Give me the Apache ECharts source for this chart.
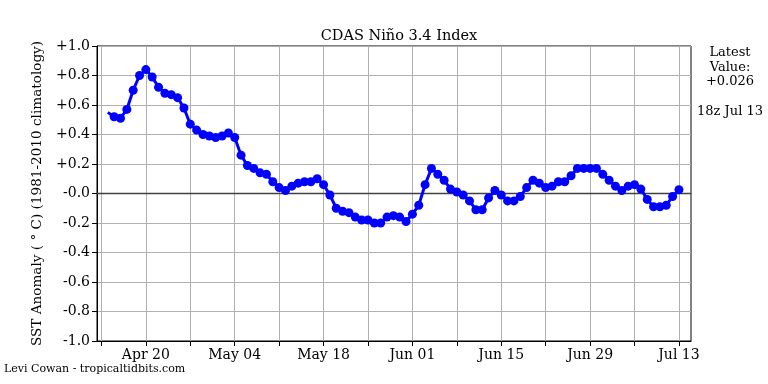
<!DOCTYPE html>
<html>
<head>
<meta charset="utf-8">
<script src="https://cdn.jsdelivr.net/npm/echarts@6/dist/echarts.min.js"></script>
<style>html,body{margin:0;padding:0;background:#fff}#c{width:768px;height:384px}</style>
</head>
<body>
<div id="c"></div>
<script>
// Daily Niño 3.4 SST anomaly, first date = Apr 14 (day -6 relative to Apr 20)
const startDay = -6;
const anomalies = [
  0.55, 0.52, 0.51, 0.57, 0.70, 0.80, 0.84, 0.79, 0.72, 0.68, 0.67, 0.65, 0.58,
  0.47, 0.43, 0.40, 0.39, 0.38, 0.39, 0.41, 0.38, 0.26, 0.19, 0.17, 0.14, 0.13,
  0.08, 0.04, 0.02, 0.05, 0.07, 0.08, 0.08, 0.10, 0.06, -0.01, -0.10, -0.12, -0.13,
  -0.16, -0.18, -0.18, -0.20, -0.20, -0.16, -0.15, -0.16, -0.19, -0.14, -0.08, 0.06,
  0.17, 0.13, 0.09, 0.03, 0.01, -0.01, -0.05, -0.11, -0.11, -0.03, 0.02, -0.01,
  -0.05, -0.05, -0.02, 0.04, 0.09, 0.07, 0.04, 0.05, 0.08, 0.08, 0.12, 0.17, 0.17,
  0.17, 0.17, 0.13, 0.09, 0.05, 0.02, 0.05, 0.06, 0.03, -0.04, -0.09, -0.09, -0.08,
  -0.02, 0.026
];
const tickDays = [-7, 0, 7, 14, 21, 28, 35, 42, 49, 56, 63, 70, 77, 84];
const labelDays = [0, 14, 28, 42, 56, 70, 84];
const tickLabels = ['Apr 20', 'May 04', 'May 18', 'Jun 01', 'Jun 15', 'Jun 29', 'Jul 13'];
const latestText = ['Latest', 'Value:', '+0.026', '', '18z Jul 13'];

const points = anomalies.map((v, i) => [startDay + i, v]);
const SERIF = '"DejaVu Serif", serif';

function fmtY(v) {
  const r = Math.round(v * 10) / 10;
  if (r > 0) return '+' + r.toFixed(1);
  if (r === 0) return '-0.0';
  return r.toFixed(1);
}

const chart = echarts.init(document.getElementById('c'));
chart.setOption({
  animation: false,
  backgroundColor: '#fff',
  title: {
    text: 'CDAS Niño 3.4 Index',
    left: 394, top: 24, textAlign: 'center',
    textStyle: {fontFamily: SERIF, fontSize: 14.5, fontWeight: 'normal', color: '#000'}
  },
  grid: {left: 97, right: 77, top: 46, bottom: 43, show: true, borderColor: '#000', borderWidth: 1},
  xAxis: {
    type: 'value', min: -7.7, max: 85.9,
    axisLine: {show: true, onZero: false, lineStyle: {color: '#000', width: 1}},
    axisTick: {show: true, length: 5, customValues: tickDays, lineStyle: {color: '#000'}},
    axisLabel: {
      customValues: labelDays, margin: 7,
      fontFamily: SERIF, fontSize: 14, color: '#000',
      formatter: v => tickLabels[labelDays.indexOf(Math.round(v))] || ''
    },
    splitLine: {show: true, lineStyle: {color: '#b0b0b0', width: 1}}
  },
  yAxis: {
    type: 'value', min: -1, max: 1, interval: 0.2,
    name: 'SST Anomaly ( ° C) (1981-2010 climatology)',
    nameLocation: 'middle', nameGap: 53, nameRotate: 90,
    nameTextStyle: {fontFamily: SERIF, fontSize: 13.6, color: '#000'},
    axisLine: {show: true, onZero: false, lineStyle: {color: '#000'}},
    axisTick: {show: true, length: 5, lineStyle: {color: '#000'}},
    axisLabel: {fontFamily: SERIF, fontSize: 14, color: '#000', margin: 7, formatter: fmtY},
    splitLine: {show: true, lineStyle: {color: '#b0b0b0', width: 1}}
  },
  series: [{
    type: 'line',
    data: points,
    symbol: 'circle',
    symbolSize: (val, p) => p.dataIndex === 0 ? 0 : 9,
    showSymbol: true,
    lineStyle: {color: '#0000ff', width: 3},
    itemStyle: {color: '#0000ff'},
    z: 5,
    markLine: {
      silent: true, symbol: 'none', label: {show: false},
      lineStyle: {color: '#404040', width: 1.3, type: 'solid'},
      data: [{yAxis: 0}]
    }
  }],
  graphic: [
    ...latestText.map((t, i) => ({
      type: 'text', x: 730, y: 46 + i * 14.8,
      style: {text: t, fontFamily: SERIF, fontSize: 13, fill: '#000', align: 'center', textAlign: 'center'}
    })),
    {
      type: 'text', x: 4, y: 364,
      style: {text: 'Levi Cowan - tropicaltidbits.com', fontFamily: SERIF, fontSize: 11, fill: '#000'}
    }
  ]
});
</script>
</body>
</html>
